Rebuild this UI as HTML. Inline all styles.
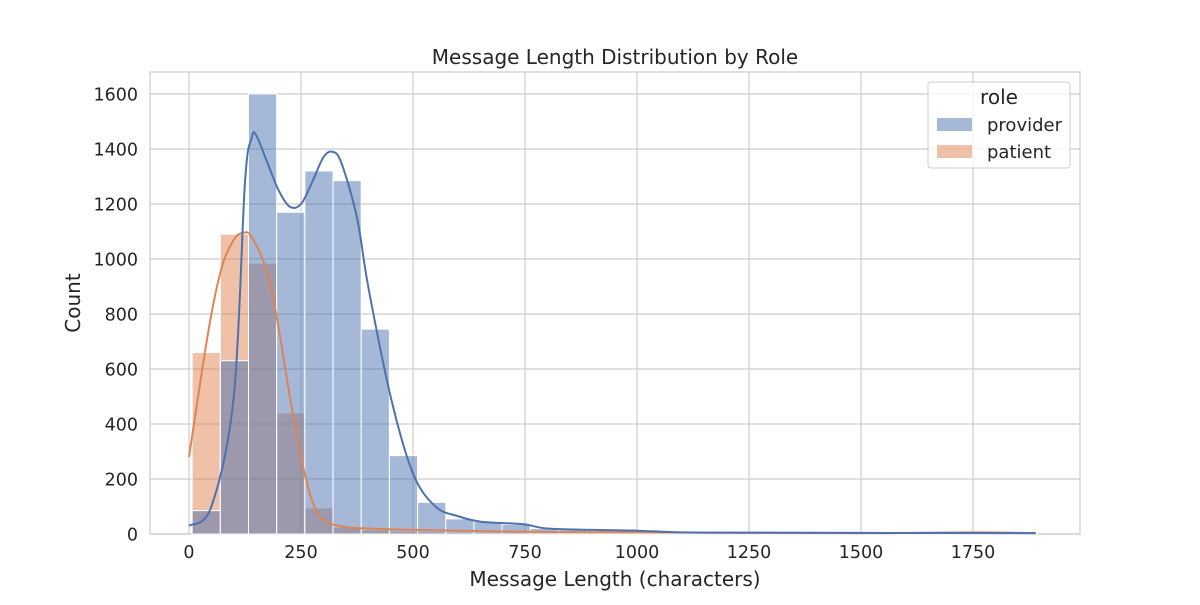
<!DOCTYPE html>
<html><head><meta charset="utf-8"><style>
body{margin:0;background:#fff}
svg text{font-family:"DejaVu Sans","Liberation Sans",sans-serif;fill:#262626}
</style></head><body>
<svg id="chart" width="1200" height="600" xmlns="http://www.w3.org/2000/svg">
<rect x="150" y="72" width="930" height="462" fill="#fff" stroke="#ccc" stroke-width="1.2"/>
<g id="grid"></g>
<g id="bars"></g>
<g id="lines"></g>
<g id="ticks"></g>
<text x="615" y="64" text-anchor="middle" font-size="20">Message Length Distribution by Role</text>
<text x="615" y="586" text-anchor="middle" font-size="20">Message Length (characters)</text>
<text x="80" y="303" text-anchor="middle" font-size="20" transform="rotate(-90 80 303)">Count</text>
<g>
<rect x="928" y="82" width="142" height="86" rx="3" fill="#fff" fill-opacity="0.8" stroke="#ccc"/>
<text x="999" y="104" text-anchor="middle" font-size="20">role</text>
<rect x="937" y="118" width="35" height="13" fill="#4c72b0" fill-opacity="0.5"/>
<text x="987" y="131" font-size="18">provider</text>
<rect x="937" y="145" width="35" height="13" fill="#dd8452" fill-opacity="0.5"/>
<text x="987" y="158" font-size="18">patient</text>
</g>
</svg>
<script>
const binStart = 7;
const binWidth = 62.9;
const providerCounts = [85,630,1600,1170,1320,1285,745,285,115,55,45,35,20,15,12,10,8,5,5,4,4,3,3,2,3,2,3,2,2,3];
const patientCounts = [660,1090,985,440,95,25,15,10,8,6,5,5,4,3,3,3,2,2,2,2,2,1,1,1,1,2,2,5,3,2];
const providerKdeX = [0,50,100,125,140,150,175,200,225,250,275,300,320,340,375,400,450,500,550,600,650,700,750,800,900,1000,1100,1250,1500,1890];
const providerKdeY = [30,100,500,1280,1440,1450,1350,1250,1190,1200,1280,1370,1390,1350,1150,900,500,220,100,65,45,40,35,20,15,12,6,5,4,3];
const patientKdeX = [0,25,50,75,100,120,140,175,200,225,250,275,300,350,400,500,750,1000,1500,1750,1890];
const patientKdeY = [280,550,800,980,1070,1095,1080,950,750,500,280,120,50,25,20,15,8,6,3,6,3];
const xTicks = [0,250,500,750,1000,1250,1500,1750];
const yTicks = [0,200,400,600,800,1000,1200,1400,1600];

const NS="http://www.w3.org/2000/svg";
const X=v=>189+v*0.448;
const Y=v=>534-v*0.275;
function mk(tag,attrs,parent){const e=document.createElementNS(NS,tag);for(const k in attrs)e.setAttribute(k,attrs[k]);document.getElementById(parent).appendChild(e);return e;}
xTicks.forEach(t=>{
  const l=mk('line',{x1:X(t),x2:X(t),y1:72,y2:534,stroke:'#ccc','stroke-width':1.2},'grid');
  
  
  const tx=mk('text',{x:X(t),y:558,'text-anchor':'middle','font-size':17.5},'ticks');
  tx.textContent=t;
  
  
});
yTicks.forEach(t=>{
  const l=mk('line',{x1:150,x2:1080,y1:Y(t),y2:Y(t),stroke:'#ccc','stroke-width':1.2},'grid');
  
  
  const tx=mk('text',{x:138,y:Y(t)+6.5,'text-anchor':'end','font-size':17.5},'ticks');
  tx.textContent=t;
  
  
});
function bars(counts,color,name){
  counts.forEach((c,i)=>{
    const x0=X(binStart+i*binWidth),x1=X(binStart+(i+1)*binWidth);
    const r=mk('rect',{x:x0,y:Y(c),width:x1-x0,height:534-Y(c),fill:color,'fill-opacity':0.5,stroke:'#fff','stroke-width':1},'bars');
    
    
  });
}
bars(patientCounts,'#dd8452','bar-patient');
bars(providerCounts,'#4c72b0','bar-provider');
function curve(xs,ys,color,name){
  const p=xs.map((x,i)=>[X(x),Y(ys[i])]);
  let d='M'+p[0][0]+','+p[0][1];
  for(let i=0;i<p.length-1;i++){
    const p0=p[Math.max(0,i-1)],p1=p[i],p2=p[i+1],p3=p[Math.min(p.length-1,i+2)];
    const c1=[p1[0]+(p2[0]-p0[0])/6,p1[1]+(p2[1]-p0[1])/6];
    const c2=[p2[0]-(p3[0]-p1[0])/6,p2[1]-(p3[1]-p1[1])/6];
    d+=` C${c1[0]},${c1[1]} ${c2[0]},${c2[1]} ${p2[0]},${p2[1]}`;
  }
  const e=mk('path',{d:d,fill:'none',stroke:color,'stroke-width':2},'lines');
  
  
}
curve(patientKdeX,patientKdeY,'#dd8452','kde-patient');
curve(providerKdeX,providerKdeY,'#4c72b0','kde-provider');
</script>
</body></html>
